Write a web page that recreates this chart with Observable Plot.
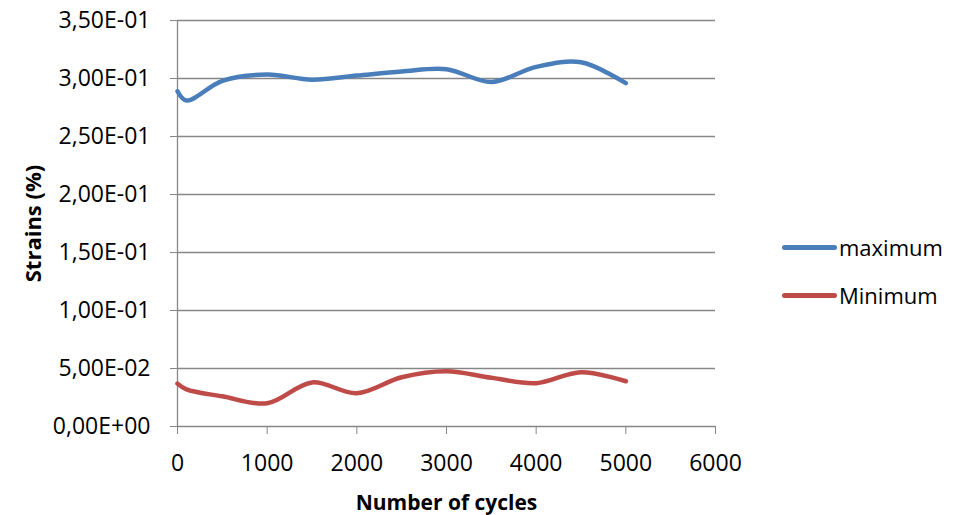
<!DOCTYPE html>
<html><head><meta charset="utf-8">
<script src="https://cdn.jsdelivr.net/npm/d3@7"></script>
<script src="https://cdn.jsdelivr.net/npm/@observablehq/plot@0.6"></script>
<style>
body{margin:0;background:#fff;font-family:"Open Sans",sans-serif;}
#wrap{position:relative;width:962px;height:515px;}
.leg{position:absolute;left:782px;font-size:22px;color:#000;display:flex;align-items:center;}
.leg span.l{display:inline-block;width:55px;height:5px;border-radius:3px;margin-right:2px;}
#wrap svg text{font-family:"Open Sans",sans-serif;}
</style></head><body>
<div id="wrap"></div>
<script>
const cycles = [0, 100, 500, 1000, 1500, 2000, 2500, 3000, 3500, 4000, 4500, 5000];
const maximum = [0.289, 0.281, 0.298, 0.3034, 0.299, 0.3025, 0.306, 0.308, 0.297, 0.310, 0.314, 0.296];
const minimum = [0.037, 0.032, 0.026, 0.020, 0.038, 0.0287, 0.0425, 0.0477, 0.042, 0.0373, 0.0468, 0.039];
const seriesNames = ["maximum", "Minimum"];
const colors = ["#4a7ebb", "#be4b48"];
const yTicks = [0, 0.05, 0.10, 0.15, 0.20, 0.25, 0.30, 0.35];
const xTicks = [0, 1000, 2000, 3000, 4000, 5000, 6000];

const data = [];
cycles.forEach((c, i) => {
  data.push({series: seriesNames[0], x: c, y: maximum[i]});
  data.push({series: seriesNames[1], x: c, y: minimum[i]});
});
const fmt = d => {
  const s = d.toExponential(2).replace(".", ",");
  return s.replace(/e([+-])(\d+)$/, (m, sg, n) => "E" + sg + n.padStart(2, "0"));
};

const chart = Plot.plot({
  width: 962, height: 515,
  marginLeft: 177, marginRight: 247, marginTop: 20, marginBottom: 89,
  style: {fontFamily: "'Open Sans', sans-serif", fontSize: "23px", color: "#000", background: "#fff"},
  x: {type: "linear", domain: [0, 6000], ticks: xTicks, label: null},
  y: {type: "linear", domain: [0, 0.35], ticks: yTicks, label: null},
  color: {domain: seriesNames, range: colors},
  marks: [
    Plot.gridY(yTicks.filter(d => d > 0), {stroke: "#868686", strokeOpacity: 1, strokeWidth: 1.3}),
    Plot.ruleX([0], {stroke: "#868686", strokeWidth: 1.3}),
    Plot.ruleY([0], {stroke: "#868686", strokeWidth: 1.3}),
    Plot.axisY({ticks: yTicks, tickFormat: fmt, tickSize: 7, stroke: "#868686", strokeOpacity: 1, tickPadding: 20, fontSize: 23, label: null}),
    Plot.axisX({ticks: xTicks, tickFormat: d => String(d), tickSize: 8, stroke: "#868686", strokeOpacity: 1, tickPadding: 20, fontSize: 23, label: null}),
    Plot.line(data, {x: "x", y: "y", stroke: "series", z: "series", strokeWidth: 4.5, curve: "catmull-rom"}),
    Plot.text(["Number of cycles"], {frameAnchor: "bottom", dy: 83, fontWeight: "bold", fontSize: 21}),
    Plot.text(["Strains (%)"], {frameAnchor: "left", textAnchor: "middle", dx: -144, rotate: -90, fontWeight: "bold", fontSize: 22})
  ]
});
const wrap = document.getElementById("wrap");
wrap.appendChild(chart);
seriesNames.forEach((n, i) => {
  const d = document.createElement("div");
  d.className = "leg";
  d.style.top = (i === 0 ? 232 : 280) + "px";
  d.innerHTML = `<span class="l" style="background:${colors[i]}"></span>${n}`;
  wrap.appendChild(d);
});
</script>
</body></html>
